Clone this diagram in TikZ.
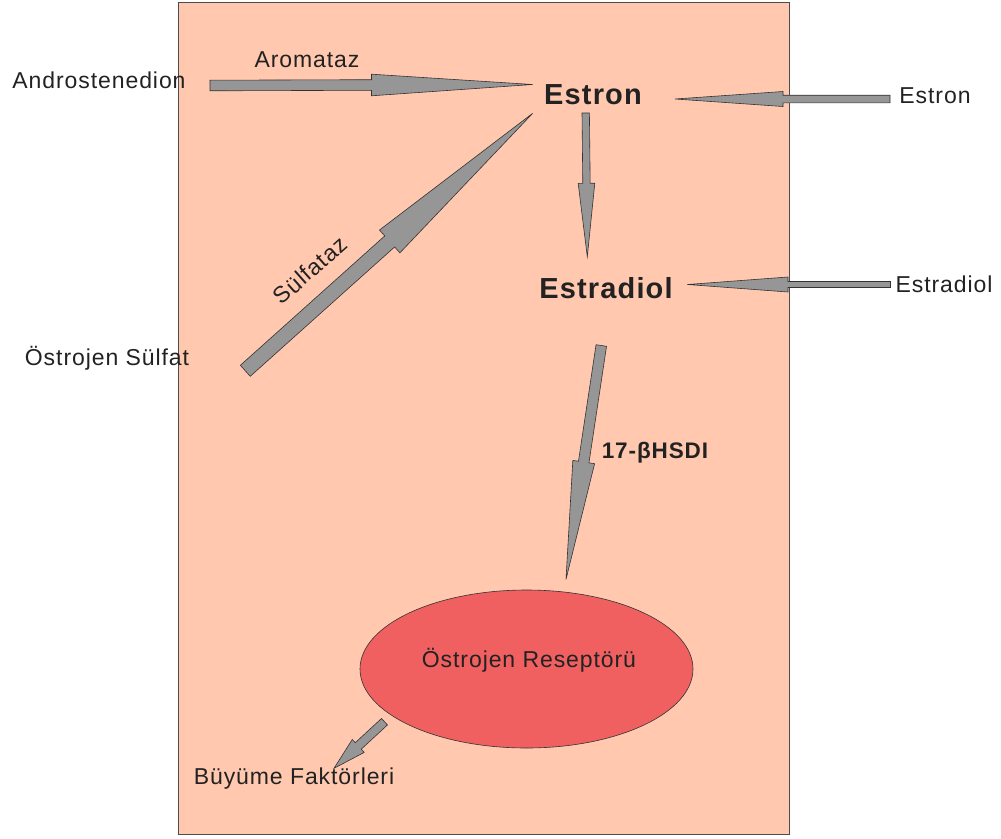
\documentclass[tikz,border=0pt]{standalone}
\usepackage{fontspec}
\setmainfont{Liberation Sans}[LetterSpace=4]
\usetikzlibrary{calc,shapes.geometric}
\definecolor{peach}{HTML}{FFC8AF}
\definecolor{recept}{HTML}{F06060}
\definecolor{arrgray}{HTML}{969696}
\definecolor{txt}{HTML}{222222}
\newcommand\blockarrow[5]{%
  \coordinate (ba-h) at ($(#2)!#5!(#1)$);
  \filldraw[barrow] ($(#1)!#3!90:(#2)$) -- ($(ba-h)!#3!-90:(#1)$) -- ($(ba-h)!#4!-90:(#1)$) -- (#2)
    -- ($(ba-h)!#4!90:(#1)$) -- ($(ba-h)!#3!90:(#1)$) -- ($(#1)!#3!-90:(#2)$) -- cycle;}
\begin{document}
\begin{tikzpicture}[x=1pt,y=-1pt,
  barrow/.style={fill=arrgray,draw=black!80,line width=0.6pt,line join=miter},
  lbl/.style={text=txt,font=\fontsize{23}{27}\selectfont,inner sep=0pt},
  blbl/.style={text=txt,font=\fontsize{29}{34}\selectfont\bfseries,inner sep=0pt},
  mlbl/.style={text=txt,font=\fontsize{22.5}{26}\selectfont\bfseries,inner sep=0pt}]
\useasboundingbox (0,0) rectangle (1001,838);
\node[draw=black!70,fill=peach,line width=0.8pt,minimum width=611pt,minimum height=832pt,inner sep=0pt,anchor=north west] (cell) at (178,2) {};
\node[ellipse,draw=black!80,fill=recept,line width=0.6pt,minimum width=333pt,minimum height=158pt,inner sep=0pt] (rec) at (526.5,669) {};
\node[lbl] (recl) at (529,660) {Östrojen Reseptörü};
% labels
\node[lbl] (andro) at (99,80) {Androstenedion};
\node[lbl] (arom) at (307,60) {Aromataz};
\node[blbl] (estron) at (593,95) {Estron};
\node[lbl] (estronr) at (935,96) {Estron};
\node[blbl] (estradiol) at (606,288) {Estradiol};
\node[lbl] (estradiolr) at (944,284) {Estradiol};
\node[lbl] (sulfat) at (107,358) {Östrojen Sülfat};
\node[lbl,rotate=41.6] (sulfataz) at (310,270) {Sülfataz};
\node[mlbl] (hsd) at (655,453) {17-βHSDI};
\node[lbl] (buyume) at (294,779) {Büyüme Faktörleri};
% arrow end points
\coordinate (a1s) at (210,85.5);  \coordinate (a1e) at (532.5,84.5);
\coordinate (a2s) at (890,99);    \coordinate (a2e) at (675,99);
\coordinate (a3s) at (890.5,284.5); \coordinate (a3e) at (687.5,284.5);
\coordinate (a4s) at (585.7,113); \coordinate (a4e) at (587.3,256.7);
\coordinate (a5s) at (245.3,370.8); \coordinate (a5e) at (532.7,113.3);
\coordinate (a6s) at (601.3,345.5); \coordinate (a6e) at (566,579.3);
\coordinate (a7s) at (384.5,721.7); \coordinate (a7e) at (334,768.3);
\blockarrow{a1s}{a1e}{5.3pt}{10.8pt}{161pt}
\blockarrow{a2s}{a2e}{3.8pt}{7.5pt}{108pt}
\blockarrow{a3s}{a3e}{3pt}{7.5pt}{100.5pt}
\blockarrow{a4s}{a4e}{3.7pt}{8.3pt}{73.4pt}
\blockarrow{a5s}{a5e}{7.4pt}{15.3pt}{192pt}
\blockarrow{a6s}{a6e}{5.3pt}{11pt}{118.6pt}
\blockarrow{a7s}{a7e}{4.4pt}{8.8pt}{33pt}
\end{tikzpicture}
\end{document}
